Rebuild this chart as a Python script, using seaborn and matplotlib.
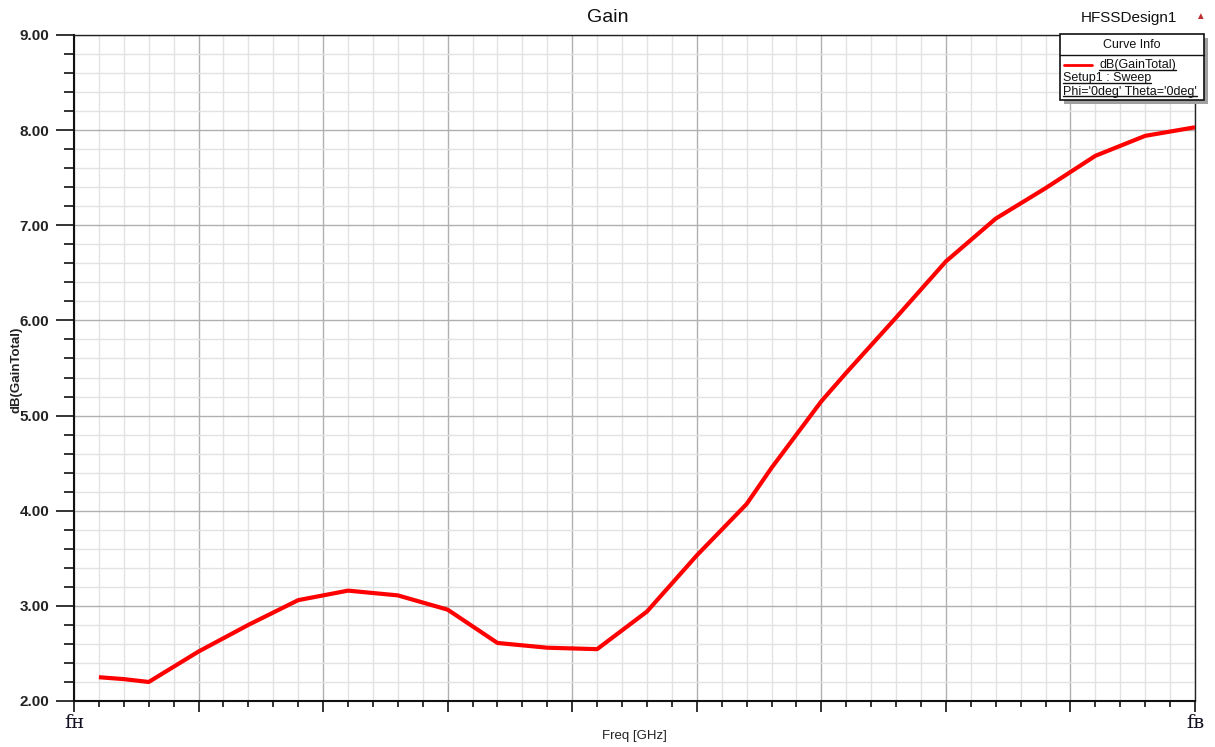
import matplotlib
matplotlib.use("Agg")
import matplotlib.pyplot as plt
import seaborn as sns
import pandas as pd
from matplotlib.ticker import MultipleLocator, FixedLocator
from matplotlib.patches import Rectangle
from matplotlib.lines import Line2D

# ---- data (x in normalized sweep units from fH=0 to fB=9) ----
freq = [0.2, 0.4, 0.6, 1.0, 1.4, 1.8, 2.2, 2.6, 3.0, 3.4, 3.8, 4.2, 4.6,
        5.0, 5.4, 5.6, 5.8, 6.0, 6.2, 6.6, 7.0, 7.4, 7.8, 8.2, 8.6, 9.0]
gain = [2.25, 2.23, 2.20, 2.52, 2.80, 3.06, 3.16, 3.11, 2.96, 2.61, 2.56, 2.545, 2.94,
        3.53, 4.07, 4.45, 4.80, 5.15, 5.45, 6.03, 6.62, 7.07, 7.39, 7.73, 7.94, 8.03]
x_ticks = [0, 1, 2, 3, 4, 5, 6, 7, 8, 9]
x_tick_labels = ["f\u029c", "", "", "", "", "", "", "", "", "f\u0299"]
y_ticks = [2, 3, 4, 5, 6, 7, 8, 9]
title = "Gain"
design = "HFSSDesign1"
legend_title = "Curve Info"
legend_lines = ["dB(GainTotal)", "Setup1 : Sweep", "Phi='0deg' Theta='0deg'"]

sns.set_style("white")
plt.rcParams['font.family'] = ['Liberation Sans', 'DejaVu Sans']

W, H = 1215, 747
fig = plt.figure(figsize=(W / 100, H / 100), dpi=100)
ax = fig.add_axes([74 / W, 1 - 701 / H, (1195 - 74) / W, (701 - 35) / H])

df = pd.DataFrame({"freq": freq, "gain": gain})
sns.lineplot(data=df, x="freq", y="gain", ax=ax, color="#ff0000", linewidth=3.0,
             solid_joinstyle="round", solid_capstyle="butt", zorder=5)

ax.set_xlim(0, 9)
ax.set_ylim(2, 9)
ax.xaxis.set_major_locator(FixedLocator(x_ticks))
ax.xaxis.set_minor_locator(MultipleLocator(0.2))
ax.yaxis.set_major_locator(FixedLocator(y_ticks))
ax.yaxis.set_minor_locator(MultipleLocator(0.2))
ax.set_xticks(x_ticks)
ax.set_xticklabels(x_tick_labels, fontfamily=['DejaVu Serif'], fontsize=14, color="#111122")
ax.set_yticks(y_ticks)
ax.set_yticklabels([f"{v:.2f}" for v in y_ticks], fontsize=11, fontweight="bold", color="#222222")

ax.grid(which="major", color="#b0b0b0", linewidth=1.0)
ax.grid(which="minor", color="#e2e2e2", linewidth=1.0)
ax.set_axisbelow(True)

ax.tick_params(which="both", bottom=True, left=True, top=False, right=False)
ax.tick_params(axis="y", which="major", direction="out", length=13, width=1.2, pad=5, color="#111111")
ax.tick_params(axis="y", which="minor", direction="out", length=7, width=1.2, color="#111111")
ax.tick_params(axis="x", which="major", direction="out", length=8, width=1.2, pad=1, color="#111111")
ax.tick_params(axis="x", which="minor", direction="out", length=4.5, width=1.2, color="#111111")

for side in ["left", "bottom"]:
    ax.spines[side].set_color("#111111")
    ax.spines[side].set_linewidth(1.5)
for side in ["top", "right"]:
    ax.spines[side].set_color("#222222")
    ax.spines[side].set_linewidth(1.0)

ax.set_xlabel("Freq [GHz]", fontsize=9.5, color="#222222")
ax.set_ylabel("dB(GainTotal)", fontsize=9.5, fontweight="bold", color="#222222")
ax.xaxis.set_label_coords(0.5, -0.043)
ax.yaxis.set_label_coords(-0.046, 0.497)

fig.text(0.5, 1 - 18 / H, title, ha="center", va="center", fontsize=14, color="#111111")
fig.text(1129 / W, 1 - 18 / H, design, ha="center", va="center", fontsize=11, color="#111111")
fig.text(1200 / W, 1 - 16 / H, "\u25B2", ha="center", va="center", fontsize=7, color="#c03030")

# ---- Curve Info box ----
bx0, bx1, by0, by1 = 1060, 1204, 34, 100
def fx(px):
    return px / W
def fy(py):
    return 1 - py / H

shadow = Rectangle((fx(bx0 + 4), fy(by1 + 4)), fx(bx1 - bx0), (by1 - by0) / H,
                   transform=fig.transFigure, facecolor="#a0a0a0", edgecolor="none", zorder=10)
box = Rectangle((fx(bx0), fy(by1)), fx(bx1 - bx0), (by1 - by0) / H,
                transform=fig.transFigure, facecolor="white", edgecolor="#111111",
                linewidth=1.2, zorder=11)
fig.add_artist(shadow)
fig.add_artist(box)
fig.add_artist(Line2D([fx(bx0), fx(bx1)], [fy(55), fy(55)], transform=fig.transFigure,
                      color="#111111", linewidth=1.0, zorder=12))
fig.text(fx((bx0 + bx1) / 2), fy(45), legend_title, ha="center", va="center",
         fontsize=9, color="#111111", zorder=12)
fig.add_artist(Line2D([fx(1064), fx(1092)], [fy(65), fy(65)], transform=fig.transFigure,
                      color="#ff0000", linewidth=2.0, zorder=12))
texts = [
    fig.text(fx(1099), fy(65), legend_lines[0], ha="left", va="center", fontsize=9, color="#111111", zorder=12),
    fig.text(fx(1063), fy(78), legend_lines[1], ha="left", va="center", fontsize=9, color="#111111", zorder=12),
    fig.text(fx(1063), fy(91.5), legend_lines[2], ha="left", va="center", fontsize=9, color="#111111", zorder=12),
]
fig.canvas.draw()
inv = fig.transFigure.inverted()
for t in texts:
    bb = t.get_window_extent()
    (x0, y0), (x1, y1) = inv.transform([(bb.x0, bb.y0), (bb.x1, bb.y1)])
    yl = y0 + 1.5 / H
    fig.add_artist(Line2D([x0, x1], [yl, yl], transform=fig.transFigure,
                          color="#111111", linewidth=1.0, zorder=12))

fig.savefig("out.png", dpi=100)
